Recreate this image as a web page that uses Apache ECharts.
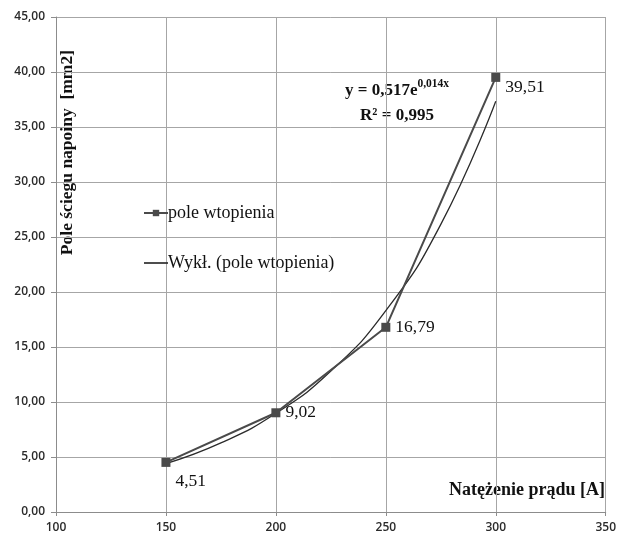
<!DOCTYPE html>
<html>
<head>
<meta charset="utf-8">
<script src="https://cdn.jsdelivr.net/npm/echarts@6/dist/echarts.min.js"></script>
<style>
  html, body { margin: 0; padding: 0; background: #fff; }
  #chart { width: 619px; height: 540px; }
</style>
</head>
<body>
<div id="chart"></div>
<script>
// Measured weld bead area vs welding current
const currents = [150, 200, 250, 300];
const areas = [4.51, 9.02, 16.79, 39.51];

// Exponential trendline (Excel "Wykł."), sampled along the curve
const trendCurrents = [150, 175, 200, 225, 250, 275, 300];
const trendAreas = [4.40, 6.28, 8.97, 12.81, 18.30, 26.15, 37.35];

const seriesName = 'pole wtopienia';
const trendName = 'Wykł. (pole wtopienia)';
const yTitle = 'Pole ściegu napoiny  [mm2]';
const xTitle = 'Natężenie prądu [A]';

const serif = '"Liberation Serif", "Times New Roman", serif';
const sans = '"Open Sans", Lato, sans-serif';

const fmt = v => v.toFixed(2).replace('.', ',');

const chart = echarts.init(document.getElementById('chart'), null, { renderer: 'canvas' });

chart.setOption({
  animation: false,
  backgroundColor: '#fff',
  grid: { left: 56, right: 11, top: 17, bottom: 28, containLabel: false, show: false },
  xAxis: {
    type: 'value', min: 100, max: 350, interval: 50,
    axisLine: { show: true, lineStyle: { color: '#8c8c8c', width: 1 } },
    axisTick: { show: true, length: 4, lineStyle: { color: '#8c8c8c' } },
    axisLabel: { color: '#2a2a2a', fontFamily: sans, fontSize: 12, fontWeight: 600, margin: 10 },
    splitLine: { show: true, lineStyle: { color: '#a6a6a6', width: 1 } }
  },
  yAxis: {
    type: 'value', min: 0, max: 45, interval: 5,
    axisLine: { show: true, lineStyle: { color: '#8c8c8c', width: 1 } },
    axisTick: { show: true, length: 5, lineStyle: { color: '#8c8c8c' } },
    axisLabel: { color: '#2a2a2a', fontFamily: sans, fontSize: 12, fontWeight: 600, margin: 11, formatter: v => fmt(v) },
    splitLine: { show: true, lineStyle: { color: '#a6a6a6', width: 1 } }
  },
  legend: {
    orient: 'vertical', left: 143, top: 204, itemGap: 32, padding: 0,
    itemWidth: 24, itemHeight: 8,
    textStyle: { fontFamily: serif, fontSize: 18, color: '#111', padding: [0, 0, 0, -5] },
    data: [
      { name: seriesName },
      { name: trendName, icon: 'path://M0,0 H100 V7 H0 Z' }
    ]
  },
  graphic: [
    {
      type: 'text', left: 58, top: 50,
      rotation: Math.PI / 2,
      style: {
        text: yTitle, fontFamily: serif, fontSize: 17.5, fontWeight: 'bold', fill: '#111'
      }
    },
    {
      type: 'text', right: 14, top: 481,
      style: { text: xTitle, fontFamily: serif, fontSize: 18, fontWeight: 'bold', fill: '#111' }
    },
    {
      type: 'text', x: 397, y: 78,
      style: {
        text: '{m|y = 0,517e}{s|0,014x}\n{r|R² = 0,995}',
        fontFamily: serif, fill: '#111',
        align: 'center', verticalAlign: 'top',
        rich: {
          m: { fontFamily: serif, fontSize: 17, fontWeight: 'bold', fill: '#111', lineHeight: 25 },
          s: { fontFamily: serif, fontSize: 11.5, fontWeight: 'bold', fill: '#111', verticalAlign: 'top', lineHeight: 25, padding: [0, 0, 6, 0] },
          r: { fontFamily: serif, fontSize: 17, fontWeight: 'bold', fill: '#111', lineHeight: 25, align: 'center' }
        }
      }
    }
  ],
  series: [
    {
      name: trendName, type: 'line', smooth: true, showSymbol: false, symbol: 'none',
      data: trendCurrents.map((x, i) => [x, trendAreas[i]]),
      lineStyle: { color: '#2b2b2b', width: 1.3 },
      itemStyle: { color: '#2b2b2b' },
      z: 3
    },
    {
      name: seriesName, type: 'line',
      data: currents.map((x, i) => [x, areas[i]]),
      symbol: 'rect', symbolSize: 9,
      lineStyle: { color: '#4a4a4a', width: 2 },
      itemStyle: { color: '#4a4a4a' },
      label: {
        show: true, position: 'right', distance: 5,
        fontFamily: serif, fontSize: 17.5, color: '#111',
        formatter: p => fmt(p.value[1])
      },
      labelLayout: p => p.dataIndex === 0 ? { dy: 19 } : (p.dataIndex === 3 ? { dy: 10 } : {}),
      z: 4
    }
  ]
});
</script>
</body>
</html>
